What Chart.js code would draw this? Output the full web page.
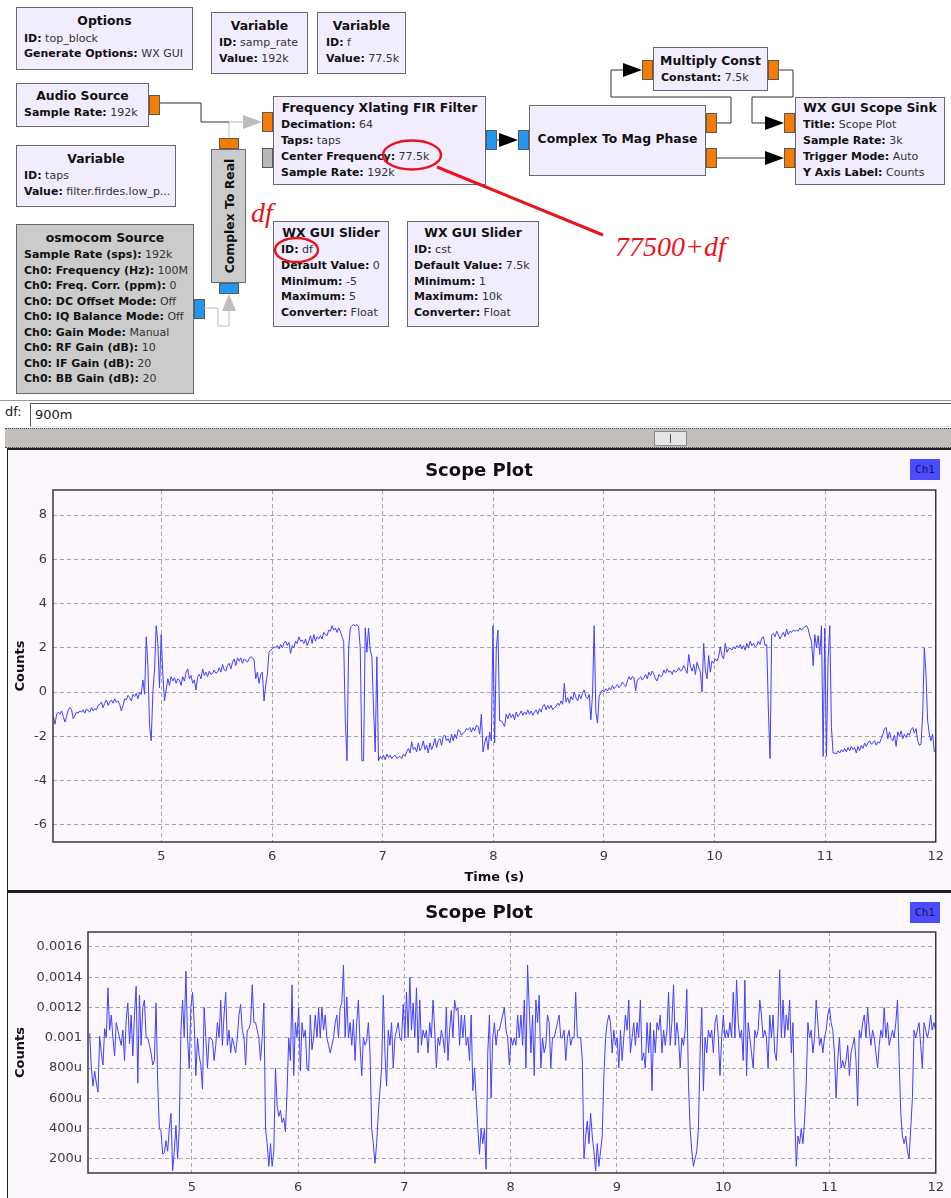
<!DOCTYPE html>
<html><head><meta charset="utf-8">
<script src="https://cdn.jsdelivr.net/npm/chart.js@4/dist/chart.umd.min.js"></script>
<style>
body{margin:0;width:951px;height:1198px;overflow:hidden;background:#fff;position:relative;font-family:'DejaVu Sans',sans-serif;}
.blk{position:absolute;box-sizing:border-box;background:#f1edfe;border:1px solid #6a6a6a;color:#1a1a1a;}
.gray{background:#cbcbcb}
.bt{position:absolute;left:0;right:0;text-align:center;font-weight:bold;font-size:12.4px;line-height:16px;white-space:nowrap;color:#111}
.bl{position:absolute;font-size:11px;line-height:14px;white-space:nowrap;color:#333}
.bl b{color:#111}
.rot{position:absolute;left:50%;top:50%;transform:translate(-50%,-50%) rotate(-90deg);white-space:nowrap;font-weight:bold;font-size:12.4px;color:#111}
.port{position:absolute;box-sizing:border-box;border:1px solid #5a5a5a}
.or{background:#f57c00}.bu{background:#2196f3}.gp{background:#b8b8b8}
.panel{position:absolute;left:7px;width:944px;box-sizing:border-box;background:#fcf7fc;border-left:1px solid #1e1e1e}
.ptitle{position:absolute;left:7px;width:944px;text-align:center;font-weight:bold;font-size:18px;line-height:22px;color:#111}
.ch{position:absolute;left:910px;width:30px;height:21px;background:#4b4bff;color:#16164a;font-family:'DejaVu Sans Mono',monospace;font-size:11px;line-height:21px;text-align:center}
canvas{position:absolute}
</style></head>
<body>
<div id="fg"></div>
<svg id="ov" width="951" height="400" style="position:absolute;left:0;top:0;z-index:5" xmlns="http://www.w3.org/2000/svg">
  <g fill="none" stroke-width="1">
    <path d="M160 103 H201 V122 H229" stroke="#333"/>
    <path d="M229 138 V122 H243" stroke="#bdbdbd"/>
    <path d="M497 140 H500" stroke="#333"/>
    <path d="M717 123 H731 V97 H611 V70 H623" stroke="#333"/>
    <path d="M779 70 H793 V97 H752 V123 H765" stroke="#333"/>
    <path d="M717 158 H765" stroke="#333"/>
    <path d="M204 308 H218 V326 H229 V311" stroke="#bdbdbd"/>
  </g>
  <polygon points="243,115 262,122 243,129" fill="#bdbdbd"/>
  <polygon points="499,133 518,140 499,147" fill="#000"/>
  <polygon points="623,63 642,70 623,77" fill="#000"/>
  <polygon points="765,116 784,123 765,130" fill="#000"/>
  <polygon points="765,151 784,158 765,165" fill="#000"/>
  <polygon points="222,311 229,294 236,311" fill="#bdbdbd"/>
  <g stroke="#e8141c" fill="none">
    <ellipse cx="412" cy="155" rx="29" ry="14.5" stroke-width="2.5"/>
    <line x1="437" y1="167" x2="603" y2="235" stroke-width="3"/>
    <ellipse cx="296.5" cy="250" rx="21.5" ry="12" stroke-width="2.5"/>
  </g>
  <g fill="#e8141c" font-family="'Liberation Serif',serif" font-style="italic" font-size="28">
    <text x="251" y="222">df</text>
    <text x="615" y="256">77500+df</text>
  </g>
</svg>

<div style="position:absolute;left:0;top:400px;width:951px;height:1px;background:#9a9a9a"></div>
<div style="position:absolute;left:5px;top:404px;font-size:13px;line-height:16px;color:#222">df:</div>
<div style="position:absolute;left:30px;top:403px;width:925px;height:24px;box-sizing:border-box;background:#fff;border-top:1px solid #555;border-left:1px solid #555;border-bottom:1px solid #ddd;padding-left:4px;font-size:13px;line-height:22px;color:#222">900m</div>
<div style="position:absolute;left:5px;top:428px;width:946px;height:20px;box-sizing:border-box;background:#c2bfba;border-top:1px dotted #444;border-bottom:1px dotted #444">
  <div style="position:absolute;left:649px;top:2px;width:33px;height:15px;box-sizing:border-box;background:#e6e6e6;border:1px solid #8a8a8a">
    <div style="position:absolute;left:15px;top:2px;width:1px;height:9px;background:#555"></div>
  </div>
</div>

<div class="panel" style="top:448px;height:443px;border-top:2px solid #1e1e1e"></div>
<div class="panel" style="top:890px;height:308px;border-top:3px solid #1e1e1e"></div>
<div class="ptitle" style="top:459px;z-index:2">Scope Plot</div>
<div class="ptitle" style="top:901px;z-index:2">Scope Plot</div>
<div class="ch" style="top:459px;z-index:2">Ch1</div>
<div class="ch" style="top:902px;z-index:2">Ch1</div>
<canvas id="c1" width="943" height="441" style="left:8px;top:449px;z-index:1"></canvas>
<canvas id="c2" width="943" height="305" style="left:8px;top:893px;z-index:1"></canvas>

<script>
// ---------- chart data ----------
const xTicks = [5, 6, 7, 8, 9, 10, 11, 12];
const yTicks1 = [-6, -4, -2, 0, 2, 4, 6, 8];
const yTicks2 = [200, 400, 600, 800, 1000, 1200, 1400, 1600];
const yLabels2 = ['200u', '400u', '600u', '800u', '0.001', '0.0012', '0.0014', '0.0016'];
const xTitle = 'Time (s)';
const yTitle = 'Counts';
const span1 = [4.022, 12.002];   // time of first and last sample, plot 1
const span2 = [4.038, 11.999];   // time of first and last sample, plot 2
const xRange1 = [4.019, 12];
const xRange2 = [4.022, 12];
const yRange1 = [-6.77, 9.13];
const yRange2 = [106, 1699];     // in micro-counts

// plot 1: samples (counts)
const values1 = [
-1.1,-1.45,-1.0,-0.9,-1.0,-0.85,-1.1,-1.35,-1.1,-0.8,
-0.7,-0.8,-1.2,-1.05,-0.9,-0.95,-0.85,-0.9,-0.8,-0.95,
-0.75,-0.85,-0.9,-0.7,-0.85,-0.75,-0.8,-0.6,-0.55,-0.45,
-0.7,-0.5,-0.35,-0.6,-0.45,-0.35,-0.5,-0.3,-0.45,-0.4,
-0.55,-0.85,-0.6,-0.3,-0.35,-0.15,-0.25,-0.4,-0.1,-0.2,
-0.05,-0.3,0.0,-0.1,0.55,-0.1,2.5,1.2,-1.5,-2.2,
0.0,1.0,3.0,2.2,0.2,2.6,0.8,-0.4,0.1,0.6,
0.3,0.7,0.5,0.65,0.4,0.6,0.55,0.3,0.7,0.5,
0.9,1.05,0.6,0.75,0.4,0.55,0.1,0.7,0.8,0.6,
1.05,0.75,0.9,0.7,0.95,0.8,0.85,1.0,0.85,0.9,
1.1,0.9,1.25,1.0,0.95,1.2,1.3,1.05,1.35,1.5,
1.2,1.55,1.4,1.55,1.3,1.5,1.45,1.35,1.5,1.6,
1.55,1.45,0.6,0.9,0.4,0.8,0.9,-0.4,0.3,0.8,
1.8,1.9,1.95,2.05,2.0,2.1,1.95,2.15,2.0,2.2,
2.3,2.1,2.25,1.75,2.1,2.0,2.3,2.2,2.5,2.3,
2.35,2.2,2.4,2.1,2.3,2.55,2.2,2.6,2.3,2.5,
2.4,2.55,2.4,2.7,2.6,2.55,2.8,2.75,3.0,2.8,
2.9,2.7,2.9,2.75,2.5,2.3,-1.3,-3.1,2.0,2.9,
3.0,3.05,3.0,3.05,2.95,2.0,-3.1,-3.1,2.9,1.8,
2.9,1.9,1.6,-0.7,-2.7,1.6,-3.1,-2.9,-3.0,-2.85,
-3.05,-2.8,-2.95,-2.85,-3.0,-2.9,-2.85,-3.0,-2.95,-2.9,
-3.0,-2.8,-2.9,-2.7,-2.55,-2.75,-2.25,-2.6,-2.5,-2.7,
-2.3,-2.65,-2.5,-2.2,-2.6,-2.4,-2.75,-2.3,-2.6,-2.4,
-2.1,-2.5,-2.2,-2.1,-2.4,-2.0,-1.95,-2.2,-2.1,-2.3,
-1.9,-2.2,-1.9,-2.1,-1.7,-1.75,-1.95,-1.85,-1.8,-1.65,
-1.7,-1.6,-1.8,-1.6,-1.75,-1.5,-1.55,
-1.9,-1.0,-2.7,-2.3,-2.0,-2.6,-1.8,-2.2,3.0,-2.3,
2.0,2.8,-1.3,-1.3,-1.4,-1.55,-1.0,-1.2,-0.95,-1.15,
-1.0,-1.25,-0.9,-1.1,-1.0,-0.85,-1.05,-0.9,-1.0,-0.8,
-1.0,-0.85,-1.05,-0.9,-0.8,-1.0,-0.75,-0.9,-0.65,-0.55,
-0.8,-0.6,-0.75,-0.6,-0.8,-0.7,-0.65,-0.5,-0.6,-0.4,
-0.55,0.4,-0.45,-0.25,-0.5,-0.2,-0.35,0.0,-0.25,-0.4,
-0.1,-0.3,-0.05,0.1,-0.2,-0.3,-0.1,-1.25,-0.1,3.0,
-0.9,-1.4,-0.2,0.0,0.1,0.0,0.15,0.05,0.2,0.1,
0.3,0.15,0.25,0.35,0.2,0.3,0.45,0.35,0.25,0.5,
0.7,0.55,0.7,0.65,0.05,0.55,0.6,0.7,0.55,0.65,
0.8,0.6,0.9,0.75,0.95,0.8,0.6,0.5,0.8,0.7,
0.75,1.0,0.85,1.05,0.9,0.95,0.8,1.0,0.9,0.95,
1.1,0.95,1.0,1.2,1.05,0.85,1.7,1.15,0.95,1.25,
0.8,1.35,1.1,0.9,0.0,2.2,1.0,0.6,1.65,0.9,
1.4,1.3,1.5,1.4,1.6,2.05,1.65,1.5,2.2,1.8,
1.95,2.0,1.9,2.05,1.95,2.1,2.0,2.15,1.95,2.1,
1.9,2.2,2.0,2.3,2.1,2.2,2.05,2.1,2.3,2.15,
2.45,2.5,2.1,2.15,-0.8,-3.0,2.6,2.65,2.5,2.75,
2.6,2.4,2.55,2.7,2.5,2.85,2.6,2.75,2.7,2.8,
2.75,2.8,2.75,2.9,2.8,2.9,2.95,3.0,2.85,2.5,
2.3,1.2,2.6,2.0,2.55,1.7,3.0,-2.9,2.9,-2.9,
1.5,3.0,-1.6,-2.75,-2.75,-2.8,-2.65,-2.75,-2.6,-2.7,
-2.55,-2.7,-2.5,-2.65,-2.45,-2.6,-2.5,-2.75,-2.45,-2.65,
-2.4,-2.55,-2.3,-2.45,-2.3,-2.2,-2.35,-2.3,-2.2,-2.4,
-2.25,-2.3,-2.1,-1.9,-1.65,-1.6,-2.1,-1.8,-2.1,-2.2,
-1.95,-2.45,-1.8,-2.0,-1.75,-2.1,-1.9,-2.05,-1.85,-1.95,
-1.7,-1.6,-1.85,-1.65,-2.2,-2.4,-2.35,-1.0,2.0,0.8,
-1.3,-1.9,-2.2,-1.9,-2.7,-2.6
];

// plot 2: samples (micro-counts)
const values2 = [
1030,800,680,780,700,640,1010,900,820,1060,
1000,1330,1050,1150,1000,880,1100,1050,1000,950,
1050,850,1120,1230,960,1150,880,1150,1340,700,
1280,950,1200,1250,1000,1000,950,900,820,850,
1230,700,400,380,230,240,320,250,400,500,
120,250,420,200,400,1050,1250,1000,1440,1000,
800,1200,1300,1100,750,1000,880,820,660,1200,
1000,800,1000,1000,980,850,950,1100,1000,1250,
950,1150,1300,950,1050,900,1000,950,900,1000,
1150,1220,1050,1000,820,1050,1060,1100,1350,1100,
1100,1050,1000,850,1000,1230,400,300,150,300,
150,250,800,550,480,520,440,470,380,650,
1000,850,1350,750,1100,1000,1200,780,1100,1000,
1050,800,780,1150,920,1000,1150,1000,1200,1000,
1200,1050,1150,1000,950,900,950,1000,1100,1150,
1000,1200,1230,1480,1000,1270,1000,1100,950,1120,
850,1100,1250,950,750,1000,950,980,1100,900,
400,300,170,300,500,650,800,1280,900,680,
1050,950,1100,800,1000,1050,1100,1000,980,1220,
1000,1300,1000,1400,1050,1230,1000,1330,900,1250,
950,1050,1000,1050,900,1100,1000,1250,1050,800,
1000,950,1050,1000,900,1200,850,1050,1180,1000,
1250,1180,1200,950,1150,1000,1150,950,1000,850,
1150,650,800,600,400,
230,400,300,400,130,900,1150,600,1000,1100,
950,1050,1050,1100,1150,1200,1050,1000,820,1000,
950,1000,950,1150,1000,1150,950,1250,800,1480,
1200,900,1150,750,1250,1100,1280,800,1000,900,
950,1150,1100,800,1000,1000,1050,1100,1150,1000,
1000,1050,850,1000,1050,950,1000,1000,1300,1000,
1000,1000,850,200,350,450,300,500,350,250,
120,300,150,250,350,750,1000,1100,1150,1100,
900,1050,950,1000,800,1050,850,1000,1150,1050,
1250,900,1000,1100,950,1100,1000,1250,850,900,
800,1100,900,1100,650,1050,900,1100,1050,1150,
900,1050,950,1050,1300,950,1100,1350,950,1100,
1000,800,1000,950,1050,1320,700,400,250,150,
200,250,400,900,1200,650,1000,900,1050,1000,
1050,900,1100,1150,1000,750,1000,1150,1000,1050,
1000,1100,1000,1300,1000,1380,1100,1000,1050,850,
1380,750,1100,1000,900,800,1050,1000,1050,1250,
1150,1000,1050,1000,800,1150,1000,1150,900,850,
1100,1450,1000,1250,1000,1150,1050,1250,900,1100,
500,150,350,300,400,300,450,700,1100,1000,
1050,900,1000,1250,1100,950,1000,900,1000,1050,
1150,1200,1100,1050,900,600,850,1000,800,850,
800,850,950,750,900,950,1000,850,550,1050,
1000,1100,1150,1000,1200,1050,950,1050,1000,900,
800,950,1050,1000,1200,1000,1100,950,1000,1050,
1000,1100,1250,850,500,350,300,350,250,200,
400,600,1050,1000,1050,1100,950,800,1100,1050,
1000,1050,1150,1050,1100,1050
];

// ---------- flowgraph layout (not chart data) ----------
const blocks = [
 {x:16,y:7,w:177,h:63,title:'Options',ty:21,lx:24,lines:[['ID:','top_block',39],['Generate Options:','WX GUI',54]]},
 {x:211,y:12,w:97,h:62,title:'Variable',ty:26,lx:219,lines:[['ID:','samp_rate',43],['Value:','192k',59]]},
 {x:317,y:12,w:89,h:62,title:'Variable',ty:26,lx:326,lines:[['ID:','f',43],['Value:','77.5k',59]]},
 {x:16,y:83,w:133,h:44,title:'Audio Source',ty:96,lx:24,lines:[['Sample Rate:','192k',113]]},
 {x:16,y:145,w:160,h:62,title:'Variable',ty:159,lx:24,lines:[['ID:','taps',176],['Value:','filter.firdes.low_p...',192]]},
 {x:273,y:96,w:213,h:89,title:'Frequency Xlating FIR Filter',ty:108,lx:281,lines:[['Decimation:','64',125],['Taps:','taps',141],['Center Frequency:','77.5k',157],['Sample Rate:','192k',173]]},
 {x:529,y:105,w:177,h:71,title:'Complex To Mag Phase',ty:139,lx:537,lines:[]},
 {x:653,y:47,w:115,h:44,title:'Multiply Const',ty:61,lx:661,lines:[['Constant:','7.5k',78]]},
 {x:795,y:97,w:150,h:88,title:'WX GUI Scope Sink',ty:108,lx:803,lines:[['Title:','Scope Plot',125],['Sample Rate:','3k',141],['Trigger Mode:','Auto',157],['Y Axis Label:','Counts',173]]},
 {x:16,y:224,w:178,h:170,gray:true,title:'osmocom Source',ty:238,lx:24,lines:[['Sample Rate (sps):','192k',255],['Ch0: Frequency (Hz):','100M',270.5],['Ch0: Freq. Corr. (ppm):','0',286],['Ch0: DC Offset Mode:','Off',301.5],['Ch0: IQ Balance Mode:','Off',317],['Ch0: Gain Mode:','Manual',332.5],['Ch0: RF Gain (dB):','10',348],['Ch0: IF Gain (dB):','20',363.5],['Ch0: BB Gain (dB):','20',379]]},
 {x:273,y:221,w:116,h:106,title:'WX GUI Slider',ty:233,lx:281,lines:[['ID:','df',250],['Default Value:','0',266],['Minimum:','-5',282],['Maximum:','5',297],['Converter:','Float',313]]},
 {x:407,y:221,w:132,h:106,title:'WX GUI Slider',ty:233,lx:414,lines:[['ID:','cst',250],['Default Value:','7.5k',266],['Minimum:','1',282],['Maximum:','10k',297],['Converter:','Float',313]]}
];
const ports = [[149,95,11,20,'or'],[262,112,11,20,'or'],[262,148,11,20,'gp'],[486,130,11,20,'bu'],[518,130,11,20,'bu'],
 [706,113,11,20,'or'],[706,148,11,20,'or'],[642,60,11,20,'or'],[768,60,11,20,'or'],[784,113,11,20,'or'],[784,148,11,20,'or'],
 [219,138,20,11,'or'],[219,283,20,11,'bu'],[194,299,11,20,'bu']];

const fg = document.getElementById('fg');
for (const b of blocks) {
  const d = document.createElement('div');
  d.className = 'blk' + (b.gray ? ' gray' : '');
  d.style.cssText = `left:${b.x}px;top:${b.y}px;width:${b.w}px;height:${b.h}px`;
  const t = document.createElement('div');
  t.className = 'bt'; t.textContent = b.title; t.style.top = (b.ty - b.y - 9) + 'px';
  d.appendChild(t);
  for (const [k, v, cy] of b.lines) {
    const l = document.createElement('div');
    l.className = 'bl';
    l.style.left = (b.lx - b.x - 1) + 'px';
    l.style.top = (cy - b.y - 8) + 'px';
    const kb = document.createElement('b'); kb.textContent = k;
    l.appendChild(kb); l.appendChild(document.createTextNode(' ' + v));
    d.appendChild(l);
  }
  fg.appendChild(d);
}
{
  const d = document.createElement('div');
  d.className = 'blk gray';
  d.style.cssText = 'left:211px;top:149px;width:35px;height:134px';
  const r = document.createElement('div'); r.className = 'rot'; r.textContent = 'Complex To Real';
  d.appendChild(r); fg.appendChild(d);
}
for (const [x, y, w, h, c] of ports) {
  const p = document.createElement('div');
  p.className = 'port ' + c;
  p.style.cssText = `left:${x}px;top:${y}px;width:${w}px;height:${h}px`;
  fg.appendChild(p);
}

// ---------- charts ----------
const frame = {id:'frame', afterDatasetsDraw(c){const a=c.chartArea,x=c.ctx;x.save();x.strokeStyle='#3a3a3a';x.lineWidth=1.5;x.strokeRect(a.left,a.top,a.right-a.left,a.bottom-a.top);x.restore();}};
const tickFont = {family:'DejaVu Sans', size:13};
const titleFont = {family:'DejaVu Sans', size:13, weight:'bold'};

function makeChart(id, values, span, xr, yr, yT, yLab, yW, xH, padTop, showX) {
  const n = values.length;
  const pts = values.map((v, i) => ({x: span[0] + i * (span[1] - span[0]) / (n - 1), y: v}));
  return new Chart(document.getElementById(id), {
    type: 'line',
    data: {datasets: [{data: pts, borderColor: '#4040ff', borderWidth: 1, pointRadius: 0, tension: 0, fill: false}]},
    options: {
      responsive: false, animation: false, parsing: false, normalized: true,
      layout: {padding: {top: padTop, right: 11, left: 0, bottom: 0}},
      plugins: {legend: {display: false}, title: {display: false}, tooltip: {enabled: false}},
      events: [],
      scales: {
        x: {type: 'linear', min: xr[0], max: xr[1],
            afterBuildTicks: s => { s.ticks = xTicks.map(v => ({value: v})); },
            afterFit: s => { s.height = xH; },
            grid: {color: '#a8a8a8', lineWidth: 1, drawTicks: false},
            border: {display: false, dash: [4, 3]},
            ticks: {padding: 7, color: '#3a3a3a', font: tickFont, maxRotation: 0, autoSkip: false, callback: v => String(v)},
            title: {display: showX, text: xTitle, color: '#111', font: titleFont, padding: {top: 0, bottom: 5}}},
        y: {type: 'linear', min: yr[0], max: yr[1],
            afterBuildTicks: s => { s.ticks = yT.map(v => ({value: v})); },
            afterFit: s => { s.width = yW; },
            grid: {color: '#a8a8a8', lineWidth: 1, drawTicks: false},
            border: {display: false, dash: [4, 3]},
            ticks: {padding: 6, color: '#3a3a3a', font: tickFont, autoSkip: false,
                    callback: v => { const k = yT.indexOf(v); return yLab && k >= 0 ? yLab[k] : String(v); }},
            title: {display: true, text: yTitle, color: '#111', font: titleFont, padding: {top: 5, bottom: 0}}}
      }
    },
    plugins: [frame]
  });
}
makeChart('c1', values1, span1, xRange1, yRange1, yTicks1, null, 45, 48, 41, true);
makeChart('c2', values2, span2, xRange2, yRange2, yTicks2, yLabels2, 80, 25, 39, false);
</script>
</body></html>
